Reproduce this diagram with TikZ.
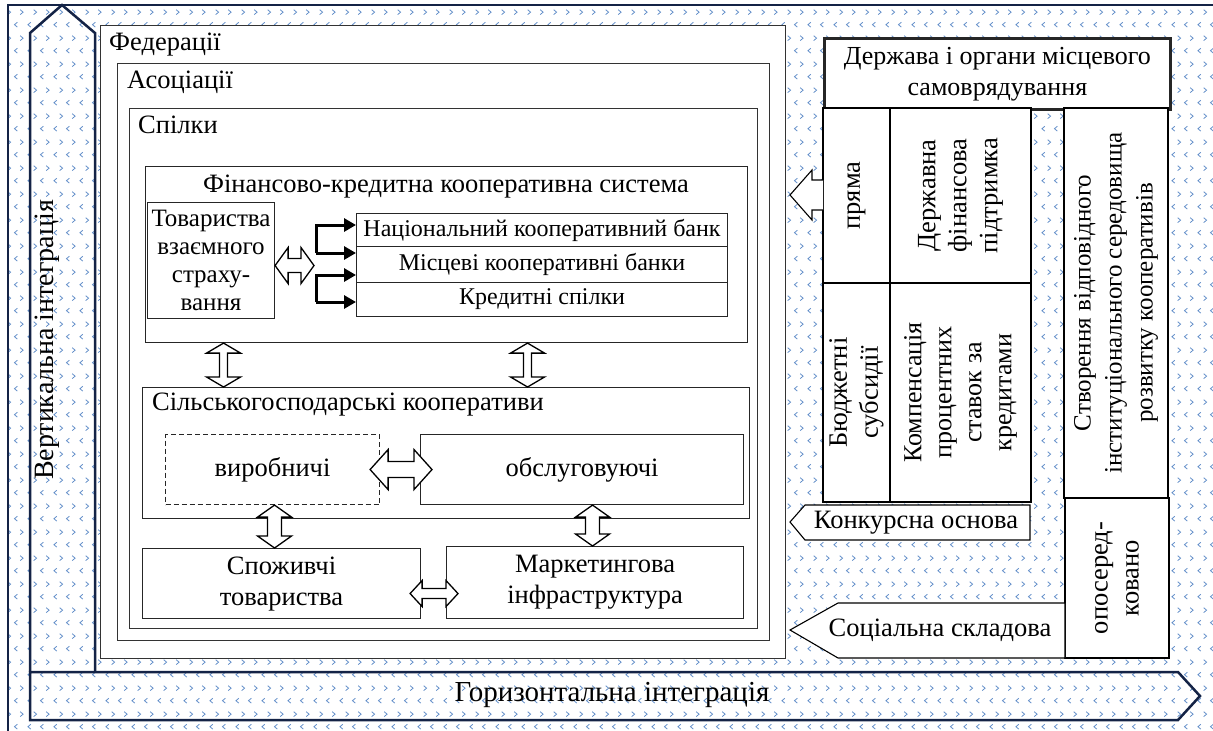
\documentclass[tikz,border=0pt]{standalone}
\usepackage{fontspec}
\setmainfont{Liberation Serif}
\usetikzlibrary{patterns.meta,arrows.meta,calc}
\definecolor{chevc}{RGB}{95,140,200}
\definecolor{navy}{RGB}{20,35,70}
\tikzdeclarepattern{
  name=chev,
  type=colored,
  bottom left={(0pt,0pt)},
  top right={(26pt,26pt)},
  tile size={(26pt,26pt)},
  code={
    \draw[chevc,line width=0.8pt] (5pt,3pt) -- (2pt,5.5pt) -- (5pt,8pt);
    \draw[chevc,line width=0.8pt] (18pt,3pt) -- (15pt,5.5pt) -- (18pt,8pt);
    \draw[chevc,line width=0.8pt] (8pt,16pt) -- (11pt,18.5pt) -- (8pt,21pt);
    \draw[chevc,line width=0.8pt] (21pt,16pt) -- (24pt,18.5pt) -- (21pt,21pt);
  }
}
\tikzset{
  frm/.style={draw=black!80,line width=1.2pt,fill=white,inner sep=0pt,anchor=north west},
  bx/.style={draw=black!85,line width=1.1pt,fill=white,inner sep=0pt,anchor=north west,align=center},
  cll/.style={draw=black,line width=1.1pt,fill=white,inner sep=0pt,align=center,rotate=90},
  lbl/.style={inner sep=0pt,anchor=base west},
  brk/.style={line width=3pt,line join=miter,-{Triangle[length=12pt,width=13pt]}},
  hdbl/.style n args={3}{draw=black,fill=white,line width=1.3pt,line join=miter,
    to path={let \p1=(\tikztostart), \p2=(\tikztotarget) in
      (\x1,\y1) -- (\x1+#3,\y1+#1) -- (\x1+#3,\y1+#2) -- (\x2-#3,\y1+#2) -- (\x2-#3,\y1+#1)
      -- (\x2,\y1) -- (\x2-#3,\y1-#1) -- (\x2-#3,\y1-#2) -- (\x1+#3,\y1-#2) -- (\x1+#3,\y1-#1) -- cycle}},
  vdbl/.style n args={3}{draw=black,fill=white,line width=1.3pt,line join=miter,
    to path={let \p1=(\tikztostart), \p2=(\tikztotarget) in
      (\x1,\y1) -- (\x1+#1,\y1-#3) -- (\x1+#2,\y1-#3) -- (\x1+#2,\y2+#3) -- (\x1+#1,\y2+#3)
      -- (\x1,\y2) -- (\x1-#1,\y2+#3) -- (\x1-#2,\y2+#3) -- (\x1-#2,\y1-#3) -- (\x1-#1,\y1-#3) -- cycle}},
}
\begin{document}
\begin{tikzpicture}[x=1pt,y=-1pt,font=\fontsize{26.5}{31}\selectfont]
\useasboundingbox (0,0) rectangle (1213,731);
\fill[white] (0,0) rectangle (1213,731);
\fill[pattern=chev] (8,5) rectangle (1213,731);
\draw[navy,line width=2.5pt] (8,731) -- (8,5) -- (1213,5);

% integration arrows
\draw[navy,line width=2.5pt,line join=miter] (30,672) -- (30,33) -- (62,5) -- (95,33) -- (95,672);
\draw[navy,line width=2.5pt,line join=miter] (30,672) -- (1178,672) -- (1200,696) -- (1178,720) -- (30,720) -- cycle;
\node[rotate=90,font=\fontsize{28}{32}\selectfont] (vint) at (47,340) {Вертикальна інтеграція};
\node[font=\fontsize{29}{32}\selectfont] (hint) at (612,695) {Горизонтальна інтеграція};

% nested frames
\node[frm,minimum width=685pt,minimum height=633pt] (fed) at (100,25) {};
\node[lbl] (fedl) at (109,50) {Федерації};
\node[frm,minimum width=652pt,minimum height=577pt] (aso) at (117,63) {};
\node[lbl] (asol) at (127,88) {Асоціації};
\node[frm,minimum width=628pt,minimum height=520pt] (spil) at (129,108) {};
\node[lbl] (spill) at (138,133) {Спілки};

% financial system
\node[bx,minimum width=602pt,minimum height=176pt] (fin) at (145,166) {};
\node (fint) at (446,187) {Фінансово-кредитна кооперативна система};
\node[bx,minimum width=127pt,minimum height=116pt,font=\fontsize{25}{28}\selectfont] (tov) at (147,202) {Товариства\\взаємного\\страху-\\вання};
\node[bx,minimum width=371pt,minimum height=33pt,font=\fontsize{24}{28}\selectfont] (nat) at (356,213) {Національний кооперативний банк};
\node[bx,minimum width=371pt,minimum height=36pt,font=\fontsize{24}{28}\selectfont] (mis) at (356,246) {Місцеві кооперативні банки};
\node[bx,minimum width=371pt,minimum height=34pt,font=\fontsize{24}{28}\selectfont] (kred) at (356,282) {Кредитні спілки};

\coordinate (b1t) at (316,225);
\coordinate (b1b) at (316,253);
\coordinate (b2t) at (316,275);
\coordinate (b2b) at (316,302);
\draw[brk] (b1b) -- (b1t) -- (b1t -| nat.west);
\draw[brk] (b1b) -- (b1b -| mis.west);
\draw[brk] (b2b) -- (b2t) -- (b2t -| mis.west);
\draw[brk] (b2b) -- (b2b -| kred.west);
\coordinate (brm) at (314,265);
\draw[hdbl={18pt}{7pt}{13pt}] ([yshift=-5pt]tov.east) to (brm);

% agricultural cooperatives
\node[bx,minimum width=607pt,minimum height=131pt] (sg) at (142,387) {};
\node[lbl,anchor=west] (sgt) at (152,405) {Сільськогосподарські кооперативи};
\node[bx,dash pattern=on 5pt off 3pt,minimum width=214pt,minimum height=70pt] (vyr) at (165,434) {виробничі};
\node[bx,minimum width=323pt,minimum height=70pt] (obs) at (420,434) {обслуговуючі};
\draw[hdbl={20pt}{8pt}{18pt}] ([xshift=-10pt]vyr.east) to ([xshift=12pt]obs.west);

\draw[vdbl={17pt}{4pt}{10pt}] ([xshift=-223pt]fin.south) to ([xshift=-223pt]fin.south |- sg.north);
\draw[vdbl={17pt}{4pt}{10pt}] ([xshift=81pt]fin.south) to ([xshift=81pt]fin.south |- sg.north);

\node[bx,minimum width=278pt,minimum height=70pt] (spoz) at (142,548) {Споживчі\\товариства};
\node[bx,minimum width=297pt,minimum height=72pt] (mark) at (446,546) {Маркетингова\\інфраструктура};
\draw[vdbl={17pt}{7pt}{12pt}] ([xshift=2pt]vyr.south) to ([xshift=2pt]vyr.south |- spoz.north);
\draw[vdbl={17pt}{7pt}{12pt}] ([xshift=10.5pt]obs.south) to ([xshift=10.5pt]obs.south |- mark.north);
\draw[hdbl={13pt}{5pt}{12pt}] ($(spoz.east)+(-11,10)$) to ($(mark.west |- spoz.east)+(12,10)$);

% right panel
\node[bx,line width=2.8pt,minimum width=346pt,minimum height=71pt,font=\fontsize{26}{31}\selectfont] (derzh) at (823,37) {Держава і органи місцевого\\самоврядування};
\node[cll,minimum width=175pt,minimum height=67pt] (pr) at (856.5,195.5) {пряма};
\node[cll,minimum width=175pt,minimum height=141pt] (dfp) at (960.5,195.5) {Державна\\фінансова\\підтримка};
\node[cll,minimum width=219pt,minimum height=67pt] (bs) at (856.5,392.5) {Бюджетні\\субсидії};
\node[cll,minimum width=219pt,minimum height=141pt,font=\fontsize{26}{30}\selectfont] (komp) at (960.5,392.5) {Компенсація\\процентних\\ставок за\\кредитами};
\node[cll,minimum width=390pt,minimum height=104pt,font=\fontsize{25}{31}\selectfont] (stv) at (1116,303) {Створення відповідного\\інституціонального середовища\\розвитку кооперативів};
\node[cll,minimum width=160pt,minimum height=104pt] (opo) at (1117,578) {опосеред-\\ковано};

\fill[white] (823,180) -- (812,180) -- (812,170) -- (790,195) -- (812,220) -- (812,210) -- (823,210) -- cycle;
\draw[line width=1.1pt,line join=miter] (823,180) -- (812,180) -- (812,170) -- (790,195) -- (812,220) -- (812,210) -- (823,210);

\draw[line width=1.1pt,fill=white] (1030,505) -- (805,505) -- (790,522) -- (805,540) -- (1030,540) -- cycle;
\node (kon) at (916,523) {Конкурсна основа};
\draw[line width=1.1pt,fill=white] (1065,603) -- (838,603) -- (790,630) -- (838,658) -- (1065,658) -- cycle;
\node (soc) at (940,630) {Соціальна складова};
\end{tikzpicture}
\end{document}
